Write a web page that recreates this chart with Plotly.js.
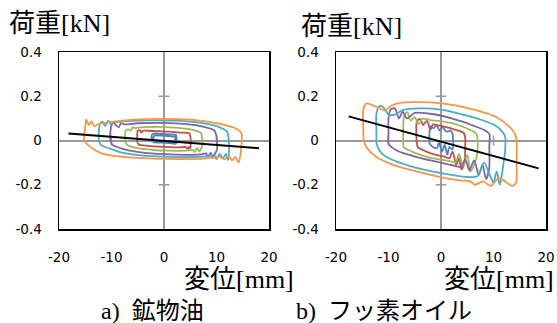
<!DOCTYPE html>
<html>
<head>
<meta charset="utf-8">
<script src="https://cdn.plot.ly/plotly-3.0.1.min.js"></script>
<style>html,body{margin:0;padding:0;background:#fff;}#chart{width:557px;height:323px;}</style>
</head>
<body>
<div id="chart"></div>
<script>
// ---- tick labels ----
const xTickVals = [-20, -10, 0, 10, 20];
const xTickText = ['-20', '-10', '0', '10', '20'];
const yTickVals = [-0.4, -0.2, 0, 0.2, 0.4];
const yTickText = ['-0.4', '-0.2', '0', '0.2', '0.4'];
const xMinorTicks = [-10, 10];
const yMinorTicks = [-0.2, 0.2];

// ---- a) 鉱物油 (mineral oil) : displacement [mm], load [kN] ----
const aBlueX = [2.3, 1.0, -0.5, -2.0, -2.3, -2.3, -2.0, -0.5, 1.0, 2.3, 2.4, 2.3, 2.0, 1.0, -0.5, -1.8, -2.0, -2.0, -1.8, -0.5, 1.0, 2.0, 2.1, 2.3];
const aBlueY = [0.025, 0.028, 0.030, 0.031, 0.025, 0.000, -0.008, -0.010, -0.012, -0.014, 0.000, 0.022, 0.018, 0.020, 0.022, 0.022, 0.015, 0.002, -0.003, -0.005, -0.007, -0.008, 0.005, 0.025];
const aRedX = [5.0, 4.8, 3.0, 1.0, -1.0, -3.0, -4.0, -4.3, -4.6, -5.0, -5.1, -5.1, -4.8, -3.0, -1.0, 1.0, 3.0, 4.2, 4.5, 4.8, 5.0, 5.1, 5.0];
const aRedY = [0.020, 0.032, 0.036, 0.040, 0.042, 0.044, 0.044, 0.036, 0.046, 0.045, 0.020, -0.005, -0.018, -0.024, -0.028, -0.030, -0.031, -0.030, -0.038, -0.028, -0.035, -0.010, 0.020];
const aGreenX = [7.2, 7.0, 5.0, 2.0, -1.0, -4.0, -5.5, -6.0, -6.3, -6.8, -7.3, -7.4, -7.4, -7.0, -5.0, -2.0, 1.0, 4.0, 5.5, 5.8, 6.3, 6.7, 7.0, 7.3, 7.2];
const aGreenY = [0.020, 0.035, 0.050, 0.058, 0.062, 0.060, 0.056, 0.060, 0.045, 0.050, 0.044, 0.020, -0.005, -0.020, -0.035, -0.043, -0.046, -0.046, -0.043, -0.052, -0.035, -0.050, -0.040, -0.020, 0.020];
const aPurpleX = [10.0, 9.6, 7.0, 3.0, -1.0, -5.0, -7.5, -8.2, -8.6, -9.2, -9.6, -10.0, -10.2, -10.2, -9.8, -7.5, -4.0, 0.0, 4.0, 7.0, 8.0, 8.4, 8.9, 9.3, 9.7, 10.1, 10.0];
const aPurpleY = [0.020, 0.045, 0.065, 0.076, 0.080, 0.078, 0.073, 0.078, 0.060, 0.070, 0.082, 0.070, 0.040, 0.000, -0.020, -0.040, -0.055, -0.062, -0.065, -0.063, -0.058, -0.075, -0.055, -0.080, -0.060, -0.040, 0.020];
const aCyanX = [12.3, 12.0, 10.0, 6.0, 2.0, -3.0, -7.0, -9.5, -10.2, -10.6, -11.2, -11.7, -12.2, -12.4, -12.4, -12.0, -10.5, -8.0, -4.0, 0.0, 4.0, 8.0, 9.5, 10.0, 10.6, 11.2, 11.8, 12.2, 12.4, 12.3];
const aCyanY = [0.010, 0.040, 0.065, 0.083, 0.090, 0.091, 0.088, 0.082, 0.075, 0.090, 0.065, 0.085, 0.075, 0.040, 0.000, -0.020, -0.035, -0.055, -0.068, -0.073, -0.075, -0.072, -0.065, -0.085, -0.060, -0.080, -0.060, -0.090, -0.040, 0.010];
const aOrangeX = [14.8, 13.8, 10.7, 6.9, 0.5, -5.8, -10.3, -12.5, -13.3, -13.8, -14.3, -14.8, -15.0, -15.2, -15.2, -14.7, -13.5, -11.6, -7.2, 0.5, 6.9, 10.7, 11.5, 12.3, 13.0, 13.6, 14.2, 14.6, 14.8, 14.8];
const aOrangeY = [0.030, 0.053, 0.075, 0.090, 0.098, 0.094, 0.083, 0.074, 0.065, 0.088, 0.070, 0.095, 0.060, 0.020, 0.000, -0.015, -0.038, -0.060, -0.075, -0.083, -0.083, -0.075, -0.085, -0.070, -0.090, -0.075, -0.100, -0.060, 0.000, 0.030];
const aLineX = [-18.2, 18.1];
const aLineY = [0.032, -0.035];

// ---- b) フッ素オイル (fluorine oil) ----
const bBlueX = [2.2, 1.8, 1.0, 0.3, -0.3, -0.8, -1.4, -2.0, -2.2, -2.2, -1.8, -0.8, -0.4, 0.2, 0.7, 1.2, 1.6, 2.2, 2.3, 2.2];
const bBlueY = [0.030, 0.045, 0.040, 0.060, 0.045, 0.070, 0.055, 0.065, 0.030, -0.010, -0.025, -0.035, -0.010, -0.050, -0.020, -0.065, -0.030, -0.040, 0.000, 0.030];
const bRedX = [4.6, 4.3, 2.5, 1.0, -0.5, -1.5, -2.0, -2.7, -3.4, -4.0, -4.6, -4.7, -4.6, -4.4, -3.0, -1.5, 0.5, 1.6, 2.2, 2.9, 3.4, 3.9, 4.5, 4.6, 4.6];
const bRedY = [0.015, 0.035, 0.050, 0.060, 0.068, 0.072, 0.050, 0.090, 0.070, 0.098, 0.085, 0.040, -0.010, -0.030, -0.048, -0.062, -0.072, -0.080, -0.050, -0.110, -0.080, -0.130, -0.100, -0.040, 0.015];
const bGreenX = [6.9, 6.5, 4.4, 2.0, 0.0, -2.0, -3.5, -4.3, -5.0, -5.8, -6.4, -7.0, -7.2, -7.2, -7.1, -5.5, -3.5, -1.0, 1.5, 2.8, 3.4, 4.2, 5.0, 5.6, 6.4, 6.9, 6.9];
const bGreenY = [0.020, 0.035, 0.060, 0.078, 0.088, 0.092, 0.098, 0.075, 0.105, 0.090, 0.128, 0.115, 0.060, 0.000, -0.030, -0.050, -0.068, -0.083, -0.092, -0.098, -0.060, -0.115, -0.065, -0.140, -0.105, -0.060, 0.020];
const bPurpleX = [9.2, 8.2, 6.0, 4.4, 2.0, -0.1, -2.5, -5.0, -6.5, -7.3, -8.0, -8.8, -9.6, -10.0, -10.0, -10.0, -8.4, -6.5, -4.6, -2.0, 0.5, 2.4, 3.8, 4.6, 5.4, 6.3, 7.2, 7.9, 8.6, 9.2, 9.2, 9.2];
const bPurpleY = [0.030, 0.048, 0.068, 0.083, 0.100, 0.113, 0.122, 0.125, 0.100, 0.130, 0.100, 0.145, 0.140, 0.100, 0.030, -0.015, -0.045, -0.062, -0.075, -0.090, -0.103, -0.113, -0.120, -0.085, -0.135, -0.090, -0.155, -0.110, -0.175, -0.120, -0.030, 0.030];
const bCyanX = [12.2, 11.5, 10.2, 7.5, 4.0, 0.0, -4.0, -7.2, -9.0, -10.0, -11.0, -11.8, -12.3, -12.3, -12.2, -11.2, -9.5, -6.0, -2.0, 2.0, 5.0, 7.0, 8.2, 9.2, 10.0, 10.6, 11.2, 11.8, 12.2, 12.2];
const bCyanY = [0.020, 0.045, 0.070, 0.095, 0.118, 0.140, 0.145, 0.138, 0.115, 0.118, 0.150, 0.155, 0.120, 0.040, -0.020, -0.060, -0.085, -0.115, -0.138, -0.155, -0.165, -0.160, -0.100, -0.150, -0.190, -0.140, -0.200, -0.120, -0.050, 0.020];
const bOrangeX = [14.4, 14.1, 13.1, 10.6, 6.8, 2.4, -0.8, -4.0, -7.2, -9.4, -10.7, -11.9, -13.1, -14.2, -14.8, -14.8, -14.7, -14.2, -12.3, -9.1, -4.7, -0.1, 3.7, 5.5, 6.5, 8.0, 9.5, 11.0, 12.5, 13.6, 14.3, 14.4, 14.4];
const bOrangeY = [0.000, 0.030, 0.060, 0.105, 0.136, 0.160, 0.170, 0.173, 0.172, 0.158, 0.136, 0.148, 0.160, 0.168, 0.140, 0.060, 0.000, -0.030, -0.075, -0.110, -0.140, -0.165, -0.180, -0.185, -0.200, -0.185, -0.205, -0.170, -0.190, -0.205, -0.190, -0.100, 0.000];
const bLineX = [-17.6, 18.6];
const bLineY = [0.109, -0.126];

// ---- colours ----
const cBlue = '#4F81BD', cRed = '#C0504D', cGreen = '#9BBB59', cPurple = '#8064A2', cCyan = '#4BACC6', cOrange = '#F79646';

function loop(x, y, color, xa, ya) {
  return {type: 'scatter', mode: 'lines', x: x, y: y, xaxis: xa, yaxis: ya,
    line: {color: color, width: 1.8, shape: 'spline', smoothing: 0.8}, hoverinfo: 'skip', showlegend: false};
}
function straight(x, y, xa, ya) {
  return {type: 'scatter', mode: 'lines', x: x, y: y, xaxis: xa, yaxis: ya,
    line: {color: '#000000', width: 2}, hoverinfo: 'skip', showlegend: false};
}

const data = [
  loop(aBlueX, aBlueY, cBlue, 'x', 'y'),
  loop(aRedX, aRedY, cRed, 'x', 'y'),
  loop(aGreenX, aGreenY, cGreen, 'x', 'y'),
  loop(aPurpleX, aPurpleY, cPurple, 'x', 'y'),
  loop(aCyanX, aCyanY, cCyan, 'x', 'y'),
  loop(aOrangeX, aOrangeY, cOrange, 'x', 'y'),
  straight(aLineX, aLineY, 'x', 'y'),
  loop(bBlueX, bBlueY, cBlue, 'x2', 'y2'),
  loop(bRedX, bRedY, cRed, 'x2', 'y2'),
  loop(bGreenX, bGreenY, cGreen, 'x2', 'y2'),
  loop(bPurpleX, bPurpleY, cPurple, 'x2', 'y2'),
  loop(bCyanX, bCyanY, cCyan, 'x2', 'y2'),
  loop(bOrangeX, bOrangeY, cOrange, 'x2', 'y2'),
  straight(bLineX, bLineY, 'x2', 'y2')
];

const W = 557, H = 323;
const tickFont = {family: 'DejaVu Sans, sans-serif', size: 13.5, color: '#000'};
const titleFont = {family: "'Liberation Serif', 'Noto Sans CJK JP', serif", size: 26, color: '#000'};
const subFont = {family: "'Liberation Serif', 'Noto Sans CJK JP', serif", size: 24, color: '#000'};
const yDom = [1 - 229 / H, 1 - 52 / H];

function xAxis(dom, anchor) {
  return {domain: dom, anchor: anchor, range: [-20, 20], fixedrange: true,
    tickvals: xTickVals, ticktext: xTickText, tickfont: tickFont, ticks: '', ticklabelstandoff: 15,
    showgrid: false, zeroline: true, zerolinecolor: '#9a9a9a', zerolinewidth: 2,
    showline: true, linecolor: '#000', linewidth: 1.5, mirror: true};
}
function yAxis(anchor) {
  return {domain: yDom, anchor: anchor, range: [-0.4, 0.4], fixedrange: true,
    tickvals: yTickVals, ticktext: yTickText, tickfont: tickFont, ticks: '', ticklabelstandoff: 13,
    showgrid: false, zeroline: true, zerolinecolor: '#9a9a9a', zerolinewidth: 2,
    showline: true, linecolor: '#000', linewidth: 1.5, mirror: true};
}

const shapes = [];
[['x', 'y'], ['x2', 'y2']].forEach(function (ax) {
  xMinorTicks.forEach(function (v) {
    shapes.push({type: 'line', xref: ax[0], yref: ax[1], x0: v, x1: v, ysizemode: 'pixel', yanchor: 0, y0: -5, y1: 5,
      line: {color: '#9a9a9a', width: 1.5}, layer: 'below'});
  });
  yMinorTicks.forEach(function (v) {
    shapes.push({type: 'line', xref: ax[0], yref: ax[1], y0: v, y1: v, xsizemode: 'pixel', xanchor: 0, x0: -5.5, x1: 5.5,
      line: {color: '#9a9a9a', width: 1.5}, layer: 'below'});
  });
});

function ann(text, px, py, anchor, font) {
  return {text: text, xref: 'paper', yref: 'paper', x: px / W, y: 1 - py / H, xanchor: anchor, yanchor: 'middle',
    showarrow: false, font: font, xshift: 0, yshift: 0};
}

const layout = {
  width: W, height: H, margin: {l: 0, r: 0, t: 0, b: 0},
  paper_bgcolor: '#fff', plot_bgcolor: '#fff', showlegend: false,
  xaxis: xAxis([59 / W, 269 / W], 'y'),
  yaxis: yAxis('x'),
  xaxis2: xAxis([336 / W, 546 / W], 'y2'),
  yaxis2: yAxis('x2'),
  shapes: shapes,
  annotations: [
    ann('荷重[kN]', 7, 24, 'left', titleFont),
    ann('荷重[kN]', 299, 26, 'left', titleFont),
    ann('変位[mm]', 182, 279, 'left', titleFont),
    ann('変位[mm]', 442, 279, 'left', titleFont),
    ann('a)  鉱物油', 99, 311, 'left', subFont),
    ann('b)  フッ素オイル', 294, 311, 'left', subFont)
  ]
};

Plotly.newPlot('chart', data, layout, {staticPlot: true, displayModeBar: false});
</script>
</body>
</html>
